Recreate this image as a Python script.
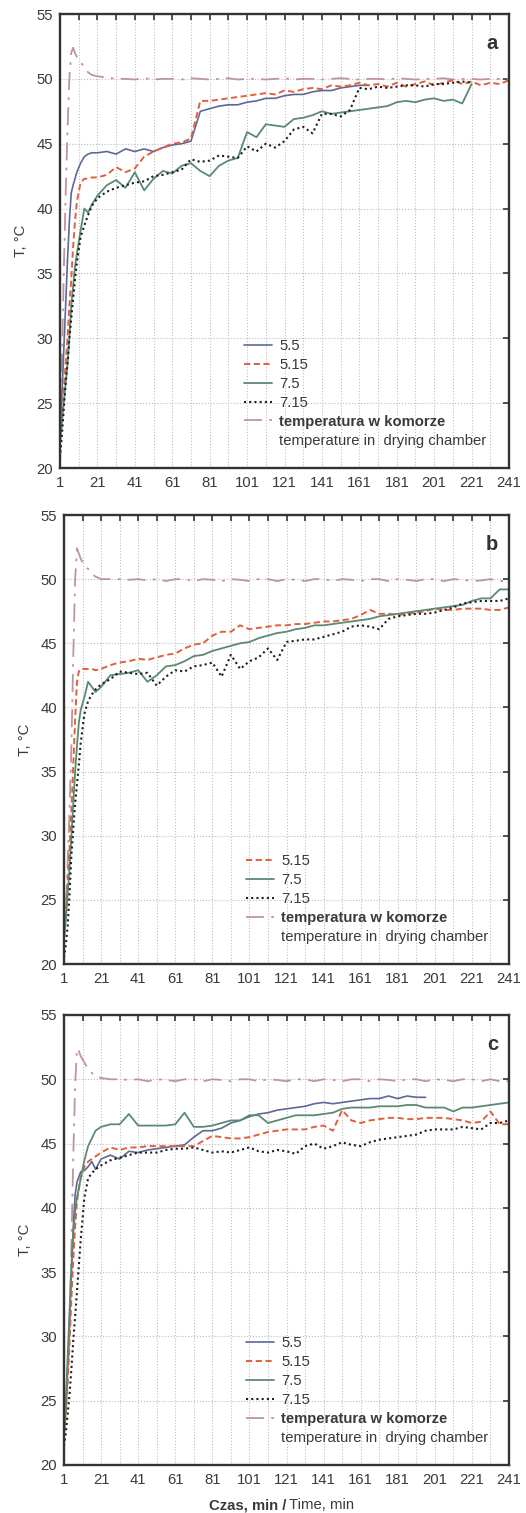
import numpy as np, matplotlib.pyplot as plt, seaborn as sns
from matplotlib.lines import Line2D
from matplotlib.ticker import FixedLocator

sns.set_theme(style="white")
plt.rcParams["font.family"] = ["Liberation Sans", "DejaVu Sans"]

# time axis of the readings (min)
minutes = [1, 2, 3, 4, 5, 6, 7, 8, 9, 10, 12, 14, 16, 18,
           21, 26, 31, 36, 41, 46, 51, 56, 61, 66, 71, 76, 81, 86, 91, 96,
           101, 106, 111, 116, 121, 126, 131, 136, 141, 146, 151, 156, 161, 166, 171,
           176, 181, 186, 191, 196, 201, 206, 211, 216, 221, 226, 231, 236, 241]
x_major = [1, 21, 41, 61, 81, 101, 121, 141, 161, 181, 201, 221, 241]
x_minor = [11, 31, 51, 71, 91, 111, 131, 151, 171, 191, 211, 231]
y_ticks = [20, 25, 30, 35, 40, 45, 50, 55]
chamber_label = ["temperatura w komorze", "temperature in  drying chamber"]

# ---- panel a ----
a_55 = [22.5, 25.5, 29, 32.5, 36, 39, 41.2, 41.8, 42.3, 42.8, 43.5, 44.0, 44.2, 44.3,
        44.3, 44.4, 44.2, 44.6, 44.4, 44.6, 44.4, 44.7, 44.9, 45.0, 45.2, 47.5, 47.7, 47.9, 48.0, 48.0,
        48.2, 48.3, 48.5, 48.5, 48.7, 48.8, 48.8, 49.0, 49.1, 49.1, 49.3, 49.4, 49.5, 49.5, None,
        None, None, None, None, None, None, None, None, None, None, None, None, None, None]
a_515 = [22.0, 23.5, 26.0, 28.0, 30.0, 32.5, 34.5, 37.0, 39.0, 40.5, 42.0, 42.3, 42.3, 42.4,
         42.4, 42.6, 43.2, 42.8, 43.1, 44.0, 44.4, 44.7, 45.0, 45.1, 45.4, 48.3, 48.3, 48.4, 48.5, 48.6,
         48.7, 48.8, 48.9, 48.8, 49.1, 49.0, 49.2, 49.3, 49.2, 49.5, 49.4, 49.5, 49.7, 49.5, 49.6,
         49.4, 49.7, 49.4, 49.6, 49.8, 49.5, 49.7, 49.9, 49.6, 49.8, 49.5, 49.7, 49.6, 49.9]
a_75 = [22.0, 23.5, 25.0, 26.5, 28.0, 30.0, 32.5, 34.0, 35.5, 36.5, 38.3, 40.0, 39.7, 40.3,
        41.0, 41.8, 42.2, 41.6, 42.8, 41.4, 42.3, 42.9, 42.7, 43.3, 43.5, 42.9, 42.5, 43.3, 43.7, 43.9,
        45.9, 45.5, 46.5, 46.4, 46.3, 46.9, 47.0, 47.2, 47.5, 47.3, 47.4, 47.5, 47.6, 47.7, 47.8,
        47.9, 48.2, 48.3, 48.2, 48.4, 48.5, 48.3, 48.4, 48.1, 49.6, None, None, None, None]
a_715 = [20.8, 22.5, 24.5, 26.5, 28.0, 30.0, 31.5, 33.0, 34.5, 35.8, 37.8, 38.7, 39.5, 40.2,
         40.8, 41.3, 41.6, 41.8, 42.0, 42.1, 42.5, 42.6, 42.8, 43.0, 43.8, 43.6, 43.7, 44.1, 44.0, 43.9,
         44.8, 44.4, 45.0, 44.7, 45.2, 46.1, 46.3, 45.8, 47.3, 47.3, 47.1, 47.6, 49.3, 49.2, 49.4,
         49.3, 49.4, 49.5, 49.5, 49.4, 49.6, 49.6, 49.7, 49.8, 49.7, None, None, None, None]
a_chamber = [22.0, 28.0, 35.0, 41.0, 46.0, 50.0, 52.0, 52.4, 52.0, 51.7, 51.3, 50.9, 50.5, 50.3,
             50.2, 50.1, 50.0, 50.0, 49.95, 50.05, 49.95, 50.0, 50.0, 49.95, 50.05, 50.0, 49.95, 50.0, 50.05,
             49.95, 50.0, 50.0, 49.95, 50.0, 50.05, 49.95, 50.0, 50.0, 49.95, 50.0, 50.05, 50.0, 49.95, 50.0,
             50.0, 49.95, 50.05, 50.0, 49.95, 50.0, 50.0, 50.05, 49.95, 50.0, 50.0, 49.95, 50.0, 50.0, 50.0]

# ---- panel b ----
b_515 = [22.0, 24.0, 26.5, 29.0, 32.0, 35.5, 39.0, 42.0, 42.8, 43.0, 43.0, 43.0, 43.0, 42.9,
         43.0, 43.3, 43.5, 43.6, 43.8, 43.7, 43.9, 44.1, 44.2, 44.6, 44.9, 45.0, 45.6, 45.9, 45.9, 46.4,
         46.1, 46.2, 46.3, 46.4, 46.4, 46.5, 46.5, 46.6, 46.7, 46.7, 46.8, 46.9, 47.2, 47.6, 47.3,
         47.3, 47.2, 47.3, 47.4, 47.5, 47.7, 47.6, 47.6, 47.7, 47.7, 47.7, 47.6, 47.6, 47.8]
b_75 = [22.0, 23.5, 25.5, 27.5, 30.0, 32.5, 35.0, 37.0, 38.8, 39.8, 40.8, 42.0, 41.6, 41.2,
        41.6, 42.5, 42.6, 42.7, 42.9, 42.0, 42.5, 43.2, 43.3, 43.6, 44.0, 44.1, 44.4, 44.6, 44.8, 45.0,
        45.1, 45.4, 45.6, 45.8, 45.9, 46.1, 46.2, 46.4, 46.4, 46.5, 46.6, 46.7, 46.8, 46.9, 47.1,
        47.2, 47.3, 47.4, 47.5, 47.6, 47.7, 47.8, 47.9, 48.0, 48.3, 48.5, 48.5, 49.2, 49.2]
b_715 = [20.5, 21.5, 23.0, 25.5, 28.5, 30.5, 32.5, 34.0, 35.5, 37.2, 39.5, 40.5, 41.0, 41.4,
         41.8, 42.2, 42.8, 42.7, 42.6, 42.7, 41.7, 42.4, 42.9, 42.8, 43.2, 43.3, 43.5, 42.4, 44.1, 43.0,
         43.6, 43.9, 44.6, 43.7, 45.1, 45.2, 45.3, 45.3, 45.5, 45.7, 45.9, 46.3, 46.4, 46.3, 46.1,
         46.9, 47.1, 47.2, 47.3, 47.3, 47.4, 47.6, 47.8, 48.1, 48.2, 48.3, 48.3, 48.3, 48.5]
b_chamber = [22.0, 24.0, 28.0, 32.0, 37.0, 44.0, 50.0, 52.4, 52.0, 51.6, 51.0, 50.8, 50.4, 50.2,
             50.0, 50.0, 50.0, 49.95, 50.0, 49.9, 50.0, 49.85, 50.0, 50.0, 49.85, 50.0, 49.95, 49.85, 50.0,
             49.95, 49.85, 50.0, 50.0, 49.85, 50.0, 49.95, 49.85, 50.0, 50.0, 49.85, 50.0, 49.95, 49.85, 50.0,
             50.0, 49.85, 50.0, 49.95, 49.85, 50.0, 50.0, 49.85, 50.0, 49.95, 49.85, 49.9, 50.0, 49.85, 49.85]

# ---- panel c ----
c_55 = [22.5, 24.5, 27.5, 31.0, 35.0, 38.5, 41.0, 42.0, 42.4, 42.8, 42.9, 43.2, 43.6, 43.0,
        43.8, 44.1, 43.8, 44.4, 44.3, 44.5, 44.6, 44.7, 44.8, 44.9, 45.5, 46.0, 46.0, 46.2, 46.6, 46.8,
        47.1, 47.3, 47.4, 47.6, 47.7, 47.8, 47.9, 48.1, 48.2, 48.1, 48.2, 48.3, 48.4, 48.5, 48.5,
        48.7, 48.5, 48.7, 48.6, 48.6, None, None, None, None, None, None, None, None, None]
c_515 = [22.5, 24.0, 26.5, 29.5, 33.0, 36.0, 38.5, 40.5, 41.5, 42.3, 43.2, 43.6, 43.8, 44.0,
         44.3, 44.7, 44.5, 44.7, 44.7, 44.8, 44.8, 44.8, 44.8, 44.8, 44.8, 45.2, 45.6, 45.5, 45.4, 45.4,
         45.5, 45.7, 45.9, 46.0, 46.1, 46.1, 46.1, 46.3, 46.4, 46.0, 47.6, 46.8, 46.6, 46.8, 46.9,
         47.0, 47.0, 46.9, 46.9, 47.0, 47.0, 47.0, 46.9, 46.8, 46.6, 46.7, 47.5, 46.5, 46.5]
c_75 = [22.5, 25.0, 28.5, 32.0, 35.5, 38.0, 39.8, 40.8, 41.5, 42.3, 43.7, 44.8, 45.4, 46.0,
        46.3, 46.5, 46.5, 47.3, 46.4, 46.4, 46.4, 46.4, 46.5, 47.4, 46.3, 46.3, 46.4, 46.6, 46.8, 46.8,
        47.2, 47.2, 46.6, 46.8, 47.0, 47.2, 47.2, 47.2, 47.3, 47.4, 47.7, 47.8, 47.8, 47.8, 47.9,
        47.9, 47.9, 48.0, 48.0, 47.8, 47.8, 47.8, 47.5, 47.8, 47.8, 47.9, 48.0, 48.1, 48.2]
c_715 = [21.5, 22.5, 24.0, 25.5, 27.5, 29.7, 31.5, 33.5, 35.5, 37.5, 40.8, 42.3, 42.7, 43.0,
         43.3, 43.7, 43.9, 44.1, 44.3, 44.3, 44.3, 44.5, 44.6, 44.6, 44.7, 44.5, 44.3, 44.4, 44.3, 44.5,
         44.7, 44.4, 44.3, 44.5, 44.4, 44.2, 44.8, 45.0, 44.6, 44.8, 45.1, 44.9, 44.8, 45.1, 45.3,
         45.4, 45.5, 45.6, 45.7, 46.0, 46.1, 46.1, 46.1, 46.3, 46.2, 46.1, 46.6, 46.6, 46.8]
c_chamber = [22.5, 24.0, 27.0, 31.0, 37.0, 44.0, 49.5, 52.4, 52.2, 51.8, 51.3, 50.8, 50.5, 50.2,
             50.1, 50.0, 50.0, 49.95, 50.0, 49.85, 50.0, 49.95, 49.85, 50.0, 50.0, 49.85, 50.0, 49.95, 49.85,
             50.0, 50.0, 49.85, 50.0, 49.95, 49.85, 50.0, 50.0, 49.85, 50.0, 49.95, 49.85, 50.0, 50.0, 49.85,
             50.0, 49.95, 49.85, 50.0, 50.0, 49.85, 50.0, 49.95, 49.85, 50.0, 50.0, 49.85, 50.0, 49.85, 49.85]

styles = {
    "5.5": dict(color="#5d6896", linestyle="-", linewidth=1.2),
    "5.15": dict(color="#e0603c", linestyle=(0, (3.2, 1.8)), linewidth=1.4),
    "7.5": dict(color="#5a8a72", linestyle="-", linewidth=1.3),
    "7.15": dict(color="#1e1e1e", linestyle=(0, (1, 1.5)), linewidth=1.5),
    "chamber": dict(color="#c0949b", linestyle=(0, (10, 4, 1.5, 4)), linewidth=1.3),
}

panels = [
    ("a", {"5.5": a_55, "5.15": a_515, "7.5": a_75, "7.15": a_715}, a_chamber),
    ("b", {"5.15": b_515, "7.5": b_75, "7.15": b_715}, b_chamber),
    ("c", {"5.5": c_55, "5.15": c_515, "7.5": c_75, "7.15": c_715}, c_chamber),
]
boxes = [[60, 14, 449, 454], [64, 515, 445, 449], [64, 1015, 445, 450]]
FS = 10.7
TXT = "#3a3a3a"

W, H = 526, 1513
fig = plt.figure(figsize=(W / 100, H / 100), dpi=100)
fig.patch.set_facecolor("white")

for (letter, series, chamber), (l, t, w, h) in zip(panels, boxes):
    for v in list(series.values()) + [chamber]:
        assert len(v) == len(minutes)
    ax = fig.add_axes([l / W, 1 - (t + h) / H, w / W, h / H])
    ax.set_facecolor("white")
    x = np.array(minutes, dtype=float)
    sns.lineplot(x=x, y=np.array(chamber, dtype=float), ax=ax, legend=False, **styles["chamber"])
    for name, vals in series.items():
        y = np.array(vals, dtype=float)
        ok = ~np.isnan(y)
        sns.lineplot(x=x[ok], y=y[ok], ax=ax, legend=False, **styles[name])

    ax.set_xlim(1, 241)
    ax.set_ylim(20, 55)
    ax.xaxis.set_major_locator(FixedLocator(x_major))
    ax.xaxis.set_minor_locator(FixedLocator(x_minor))
    ax.yaxis.set_major_locator(FixedLocator(y_ticks))
    ax.grid(which="both", axis="x", linestyle=":", color="#bcbcc8", linewidth=0.8)
    ax.grid(which="major", axis="y", linestyle=":", color="#bcbcc8", linewidth=0.8)
    ax.tick_params(which="both", direction="in", top=True, right=True, length=4, width=1.2,
                   color="#333333", labelsize=FS, labelcolor=TXT)
    ax.tick_params(axis="x", which="major", pad=6)
    ax.tick_params(axis="y", which="major", pad=5)
    for sp in ax.spines.values():
        sp.set_color("#333333")
        sp.set_linewidth(1.7)
    ax.set_xlabel("")
    ax.set_ylabel("T, °C", fontsize=FS, color=TXT, labelpad=6)
    ax.text(0.975, 0.955, letter, transform=ax.transAxes, ha="right", va="top",
            fontsize=14.5, fontweight="bold", color="#333333")

    handles, texts = [], []
    for name in series:
        handles.append(Line2D([], [], **styles[name]))
        texts.append(name)
    handles.append(Line2D([], [], **styles["chamber"]))
    texts.append(chamber_label[0])
    handles.append(Line2D([], [], color="none"))
    texts.append(chamber_label[1])
    leg = ax.legend(handles, texts, loc="lower left", bbox_to_anchor=(0.41, 0.045), frameon=False,
                    fontsize=FS, handlelength=1.85, handletextpad=0.5, labelspacing=0.33,
                    borderpad=0, borderaxespad=0)
    for tx in leg.get_texts():
        tx.set_color(TXT)
    leg.get_texts()[-2].set_fontweight("bold")

fig.text(286 / W, 1 - 1505 / H, "Czas, min /", ha="right", va="center", fontsize=FS,
         fontweight="bold", color=TXT)
fig.text(289 / W, 1 - 1505 / H, "Time, min", ha="left", va="center", fontsize=FS, color=TXT)

fig.savefig("out.png", dpi=100, facecolor="white")
